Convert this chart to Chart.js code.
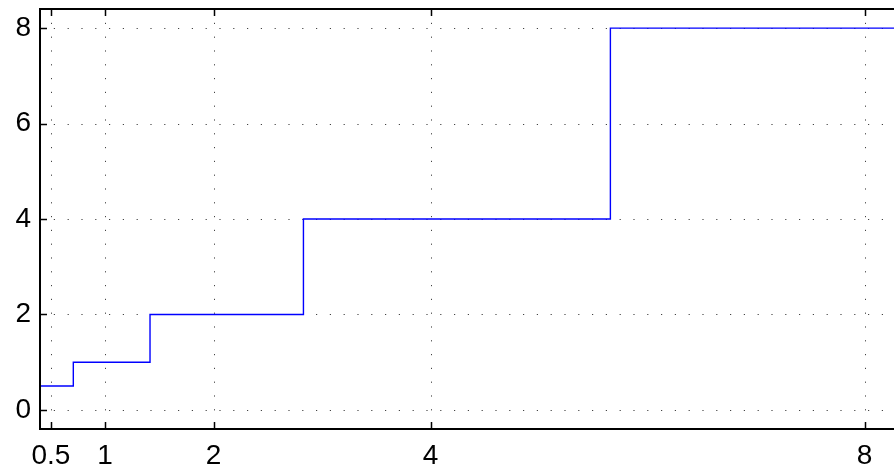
<!DOCTYPE html>
<html>
<head>
<meta charset="utf-8">
<script src="https://cdn.jsdelivr.net/npm/chart.js@4/dist/chart.umd.min.js"></script>
<style>
  html, body { margin: 0; padding: 0; background: #fff; overflow: hidden; }
  #wrap { position: relative; width: 908px; height: 472px; }
</style>
</head>
<body>
<div id="wrap"><canvas id="c"></canvas></div>
<script>
// Tick positions on both axes
const xTicks = [0.5, 1, 2, 4, 8];
const yTicks = [0, 2, 4, 6, 8];

// Quantizer staircase: each level starts at its x and holds until the next one
const stepStarts = [0.4, 0.707, 1.414, 2.828, 5.657, 8.4];
const stepLevels = [0.5, 1, 2, 4, 8, 8];

// Axis limits
const xRange = [0.4, 8.4];
const yRange = [-0.4, 8.4];

const FONT = { family: "'Liberation Sans', Arial, Helvetica, sans-serif", size: 28 };

// Dotted grid, drawn underneath the data
const dottedGrid = {
  id: 'dottedGrid',
  beforeDatasetsDraw(chart) {
    const { ctx, chartArea: a, scales: { x, y } } = chart;
    ctx.save();
    ctx.strokeStyle = '#444';
    ctx.lineWidth = 1;
    ctx.setLineDash([1.2, 12.6]);
    xTicks.forEach(v => {
      const px = Math.round(x.getPixelForValue(v)) + 0.5;
      ctx.beginPath(); ctx.moveTo(px, a.top); ctx.lineTo(px, a.bottom); ctx.stroke();
    });
    yTicks.forEach(v => {
      const py = Math.round(y.getPixelForValue(v)) + 0.5;
      ctx.beginPath(); ctx.moveTo(a.left, py); ctx.lineTo(a.right, py); ctx.stroke();
    });
    ctx.restore();
  }
};

// Box frame with inward tick marks
const frame = {
  id: 'frame',
  afterDatasetsDraw(chart) {
    const { ctx, chartArea: a, scales: { x, y } } = chart;
    const tl = 7;
    ctx.save();
    ctx.setLineDash([]);
    ctx.strokeStyle = '#000';
    ctx.lineWidth = 2;
    ctx.beginPath();
    ctx.moveTo(a.right, a.top); ctx.lineTo(a.left, a.top);
    ctx.lineTo(a.left, a.bottom); ctx.lineTo(a.right, a.bottom);
    ctx.stroke();
    ctx.lineWidth = 1.5;
    xTicks.forEach(v => {
      const px = Math.round(x.getPixelForValue(v)) + 0.5;
      ctx.beginPath();
      ctx.moveTo(px, a.bottom); ctx.lineTo(px, a.bottom - tl);
      ctx.moveTo(px, a.top); ctx.lineTo(px, a.top + tl);
      ctx.stroke();
    });
    yTicks.forEach(v => {
      const py = Math.round(y.getPixelForValue(v)) + 0.5;
      ctx.beginPath();
      ctx.moveTo(a.left, py); ctx.lineTo(a.left + tl, py);
      ctx.moveTo(a.right, py); ctx.lineTo(a.right - tl, py);
      ctx.stroke();
    });
    ctx.restore();
  }
};

new Chart(document.getElementById('c'), {
  type: 'line',
  data: {
    datasets: [{
      data: stepStarts.map((x, i) => ({ x, y: stepLevels[i] })),
      borderColor: '#0000ff',
      borderWidth: 1.4,
      pointRadius: 0,
      stepped: true,
      fill: false
    }]
  },
  options: {
    responsive: true,
    maintainAspectRatio: false,
    devicePixelRatio: 1,
    animation: false,
    layout: { padding: { top: 9, left: 0, right: 0, bottom: 0 } },
    plugins: { legend: { display: false }, tooltip: { enabled: false } },
    scales: {
      x: {
        type: 'linear',
        min: xRange[0], max: xRange[1],
        afterBuildTicks: s => { s.ticks = xTicks.map(v => ({ value: v })); },
        afterFit: s => { s.height = 43; s.paddingLeft = 0; s.paddingRight = 0; },
        grid: { display: false, drawTicks: false },
        border: { display: false },
        ticks: { color: '#000', font: FONT, padding: 10, autoSkip: false, maxRotation: 0 }
      },
      y: {
        type: 'linear',
        min: yRange[0], max: yRange[1],
        afterBuildTicks: s => { s.ticks = yTicks.map(v => ({ value: v })); },
        afterFit: s => { s.width = 40; s.paddingTop = 0; s.paddingBottom = 0; },
        grid: { display: false, drawTicks: false },
        border: { display: false },
        ticks: { color: '#000', font: FONT, padding: 9 }
      }
    }
  },
  plugins: [dottedGrid, frame]
});
</script>
</body>
</html>
